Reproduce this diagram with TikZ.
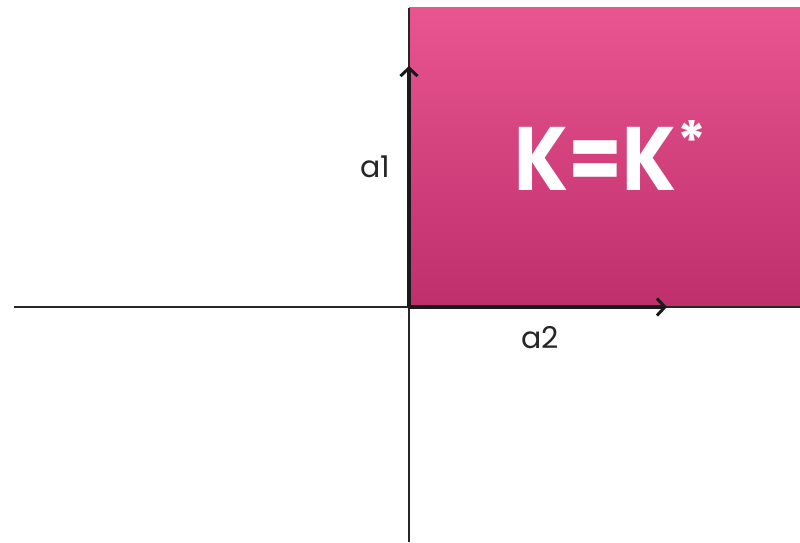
\documentclass[tikz,border=0pt]{standalone}
\usepackage{fontspec}
\setmainfont{Poppins}
\usetikzlibrary{arrows.meta}
\definecolor{pinktop}{HTML}{E9558F}
\definecolor{pinkbot}{HTML}{BE2F6C}
\tikzset{
  axis/.style={line width=2.2pt, black!85},
  vec/.style={line width=3.2pt, black!90, -{Straight Barb[length=8pt,width=17pt,line width=3pt]}},
  lbl/.style={font=\fontsize{30}{30}\selectfont, text=black!85, inner sep=0pt}
}
\begin{document}
\begin{tikzpicture}[x=1pt,y=-1pt]
  \useasboundingbox (0,0) rectangle (800,542);
  % shaded region
  \shade[top color=pinktop, bottom color=pinkbot] (409,7) rectangle (800,305);
  % axes
  \coordinate (xl) at (14,307);
  \coordinate (xr) at (800,307);
  \coordinate (yt) at (409,8);
  \coordinate (yb) at (409,542);
  \coordinate (o) at (409,307);
  \coordinate (a1tip) at (409,66);
  \coordinate (a2tip) at (667,307);
  \draw[axis] (xl) -- (xr);
  \draw[axis] (yt) -- (yb);
  \draw[vec] (o) -- (a1tip);
  \draw[vec] (o) -- (a2tip);
  \node[lbl] (a1) at (375,167) {a1};
  \node[lbl] (a2) at (540,338) {a2};
  \node[font=\fontsize{90}{90}\selectfont\bfseries, text=white, inner sep=0pt, anchor=west] (k) at (514,156)
    {\scalebox{0.86}[1]{K=K}\hspace{2pt}\raisebox{30pt}{\fontsize{54}{54}\selectfont *}};
\end{tikzpicture}
\end{document}
